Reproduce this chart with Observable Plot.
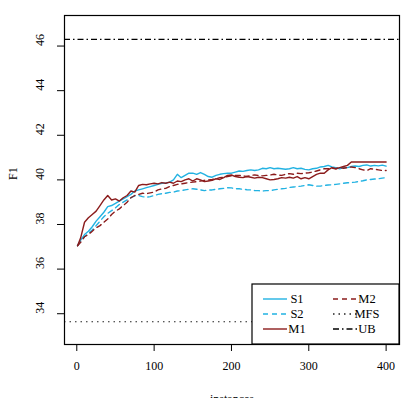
<!DOCTYPE html>
<html>
<head>
<meta charset="utf-8">
<script src="https://cdn.jsdelivr.net/npm/d3@7"></script>
<script src="https://cdn.jsdelivr.net/npm/@observablehq/plot@0.6"></script>
<style>
  html, body { margin: 0; padding: 0; background: #fff; }
  #chart { width: 409px; height: 398px; overflow: hidden; }
</style>
</head>
<body>
<div id="chart"></div>
<script>
// Number of labelled instances at each measurement point
const instances = [1, 5, 10, 15, 20, 25, 30, 35, 40, 45, 50, 55, 60, 65, 70, 75, 80, 85, 90, 95,
  100, 105, 110, 115, 120, 125, 130, 135, 140, 145, 150, 155, 160, 165, 170, 175, 180, 185, 190, 195,
  200, 205, 210, 215, 220, 225, 230, 235, 240, 245, 250, 255, 260, 265, 270, 275, 280, 285, 290, 295,
  300, 305, 310, 315, 320, 325, 330, 335, 340, 345, 350, 355, 360, 365, 370, 375, 380, 385, 390, 395, 400];

// F1 learning curves
const s1 = [37.05, 37.3, 37.55, 37.7, 37.9, 38.15, 38.35, 38.55, 38.8, 38.85, 38.95, 39.05, 39.15, 39.25, 39.35, 39.5, 39.55, 39.6, 39.65, 39.7,
  39.75, 39.8, 39.85, 39.85, 39.9, 40.0, 40.25, 40.1, 40.2, 40.3, 40.3, 40.25, 40.33, 40.25, 40.15, 40.12, 40.2, 40.25, 40.28, 40.3,
  40.3, 40.35, 40.4, 40.38, 40.42, 40.45, 40.42, 40.45, 40.52, 40.5, 40.55, 40.5, 40.52, 40.5, 40.48, 40.5, 40.55, 40.5, 40.52, 40.47,
  40.45, 40.5, 40.52, 40.58, 40.6, 40.65, 40.58, 40.55, 40.5, 40.55, 40.55, 40.6, 40.62, 40.6, 40.65, 40.67, 40.62, 40.65, 40.63, 40.66, 40.62];
const s2 = [37.05, 37.25, 37.45, 37.6, 37.75, 37.95, 38.15, 38.35, 38.5, 38.62, 38.75, 38.9, 39.0, 39.1, 39.2, 39.28, 39.3, 39.25, 39.22, 39.25,
  39.3, 39.35, 39.38, 39.4, 39.44, 39.45, 39.5, 39.52, 39.55, 39.58, 39.6, 39.58, 39.55, 39.52, 39.55, 39.55, 39.58, 39.6, 39.62, 39.65,
  39.64, 39.6, 39.6, 39.58, 39.56, 39.55, 39.52, 39.52, 39.5, 39.52, 39.52, 39.55, 39.58, 39.6, 39.62, 39.66, 39.68, 39.7, 39.72, 39.75,
  39.78, 39.75, 39.72, 39.72, 39.75, 39.77, 39.78, 39.8, 39.82, 39.85, 39.87, 39.88, 39.9, 39.93, 39.96, 40.0, 40.02, 40.04, 40.05, 40.08, 40.1];
const m1 = [37.05, 37.4, 38.1, 38.3, 38.45, 38.6, 38.85, 39.1, 39.3, 39.1, 39.15, 39.05, 39.2, 39.3, 39.5, 39.45, 39.75, 39.8, 39.78, 39.82,
  39.85, 39.82, 39.88, 39.85, 39.9, 39.85, 39.95, 39.92, 40.0, 40.05, 39.95, 40.05, 40.0, 39.92, 39.95, 39.98, 40.05, 40.02, 40.1, 40.2,
  40.22, 40.15, 40.12, 40.1, 40.15, 40.12, 40.08, 40.12, 40.1, 40.05, 40.0, 40.02, 40.05, 40.1, 40.08, 40.12, 40.08, 40.15, 40.05, 40.1,
  40.05, 40.15, 40.25, 40.3, 40.3, 40.45, 40.55, 40.5, 40.55, 40.6, 40.65, 40.8, 40.8, 40.8, 40.8, 40.8, 40.8, 40.8, 40.8, 40.8, 40.8];
const m2 = [37.05, 37.2, 37.45, 37.55, 37.7, 37.85, 37.95, 38.1, 38.25, 38.45, 38.6, 38.7, 38.85, 39.0, 39.2, 39.3, 39.35, 39.4, 39.38, 39.42,
  39.45, 39.55, 39.6, 39.62, 39.7, 39.75, 39.8, 39.82, 39.85, 39.88, 39.9, 39.92, 39.95, 39.98, 40.0, 40.02, 40.05, 40.1, 40.12, 40.15,
  40.18, 40.2, 40.2, 40.18, 40.15, 40.2, 40.22, 40.2, 40.18, 40.2, 40.22, 40.25, 40.22, 40.2, 40.25, 40.28, 40.25, 40.3, 40.28, 40.3,
  40.32, 40.35, 40.4, 40.45, 40.5, 40.5, 40.52, 40.5, 40.55, 40.52, 40.55, 40.58, 40.55, 40.5, 40.45, 40.42, 40.5, 40.48, 40.45, 40.42, 40.42];

// Reference levels
const mfs = 33.64;
const ub = 46.3;

const xTicks = [0, 100, 200, 300, 400];
const yTicks = [34, 36, 38, 40, 42, 44, 46];

const seriesNames = ["S1", "S2", "M1", "M2", "MFS", "UB"];

const cyan = "#22b2e2";
const red = "#8b1c1c";
const styles = {
  S1: {stroke: cyan, dash: null},
  S2: {stroke: cyan, dash: "5,4"},
  M1: {stroke: red, dash: null},
  M2: {stroke: red, dash: "5,4"},
  MFS: {stroke: "#222", dash: "1.5,4"},
  UB: {stroke: "#000", dash: "6,3,1.5,3"}
};

const curves = {S1: s1, S2: s2, M1: m1, M2: m2};
const rows = [];
for (const name of ["S1", "S2", "M1", "M2"]) {
  curves[name].forEach((v, i) => rows.push({series: name, x: instances[i], y: v}));
}

const lineMark = (name) => Plot.line(rows.filter(d => d.series === name), {
  x: "x", y: "y",
  stroke: styles[name].stroke,
  strokeWidth: 1.4,
  strokeDasharray: styles[name].dash
});

const font = "Liberation Serif, Times New Roman, serif";

const plot = Plot.plot({
  width: 409,
  height: 398,
  marginLeft: 64,
  marginRight: 10,
  marginTop: 15,
  marginBottom: 54,
  style: {fontFamily: font, fontSize: "12px", background: "#fff", color: "#000"},
  x: {domain: [-15.9, 417.3]},
  y: {domain: [32.62, 47.37]},
  marks: [
    Plot.ruleY([ub], {stroke: styles.UB.stroke, strokeWidth: 1.3, strokeDasharray: styles.UB.dash}),
    Plot.ruleY([mfs], {stroke: styles.MFS.stroke, strokeWidth: 1.2, strokeDasharray: styles.MFS.dash}),
    lineMark("S1"),
    lineMark("S2"),
    lineMark("M1"),
    lineMark("M2"),
    Plot.frame({stroke: "#000", strokeWidth: 1.2}),
    Plot.axisX({ticks: xTicks, tickSize: 7, tickPadding: 10, tickFormat: d => String(d), label: null, fontSize: 12}),
    Plot.ruleY([[xTicks[0], xTicks[xTicks.length - 1]]], {x1: d => d[0], x2: d => d[1], y: () => 0, frameAnchor: "bottom", stroke: "#000"}),
    Plot.axisY({ticks: yTicks, tickSize: 7, tickFormat: () => "", label: null}),
    Plot.text(yTicks, {y: d => d, text: d => String(d), frameAnchor: "left", dx: -24, rotate: -90, fontSize: 12}),
    Plot.text(["instances"], {frameAnchor: "bottom", dy: 50, lineAnchor: "top", fontSize: 12}),
    Plot.text(["F1"], {frameAnchor: "left", dx: -51, rotate: -90, fontSize: 12})
  ]
});

// Legend box in the lower right corner of the panel
const svg = d3.select(plot);
const right = 409 - 10, bottom = 398 - 54;
const lw = 147, lh = 60;
const g = svg.append("g").attr("font-family", font).attr("font-size", 12.5);
g.append("rect")
  .attr("x", right - lw).attr("y", bottom - lh)
  .attr("width", lw).attr("height", lh)
  .attr("fill", "#fff").attr("stroke", "#000").attr("stroke-width", 1.2);
seriesNames.forEach((name, i) => {
  const col = Math.floor(i / 3), row = i % 3;
  const x0 = right - lw + 11 + col * 70;
  const y0 = bottom - lh + 15 + row * 15;
  g.append("line")
    .attr("x1", x0).attr("x2", x0 + 24)
    .attr("y1", y0).attr("y2", y0)
    .attr("stroke", styles[name].stroke)
    .attr("stroke-width", 1.4)
    .attr("stroke-dasharray", styles[name].dash);
  g.append("text")
    .attr("x", x0 + 34).attr("y", y0)
    .attr("dy", "0.35em")
    .text(name);
});

document.getElementById("chart").appendChild(plot);
</script>
</body>
</html>
